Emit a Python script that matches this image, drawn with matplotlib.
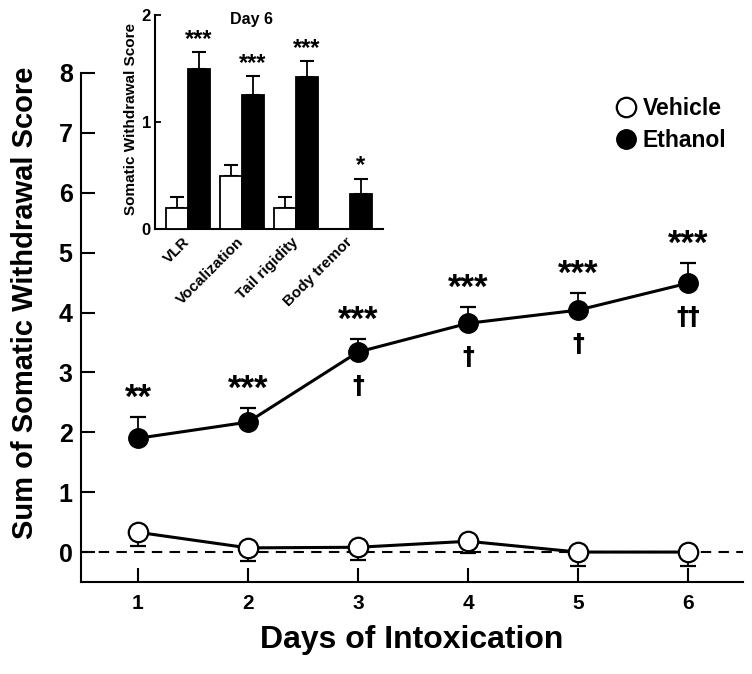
import matplotlib
matplotlib.use("Agg")
import matplotlib.pyplot as plt
from matplotlib.lines import Line2D
import numpy as np

plt.rcParams['font.family'] = ['Liberation Sans', 'DejaVu Sans']
plt.rcParams['font.weight'] = 'bold'
plt.rcParams['axes.labelweight'] = 'bold'

# main chart data
days = [1, 2, 3, 4, 5, 6]
vehicle = [0.33, 0.07, 0.08, 0.18, 0.0, 0.0]
vehicle_err = [0.23, 0.22, 0.22, 0.20, 0.24, 0.23]
ethanol = [1.90, 2.17, 3.34, 3.82, 4.04, 4.49]
ethanol_err = [0.35, 0.23, 0.22, 0.27, 0.28, 0.33]
eth_stars = ['**', '***', '***', '***', '***', '***']
eth_dagger = ['', '', '†', '†', '†', '††']

# inset data (day 6)
signs = ['VLR', 'Vocalization', 'Tail rigidity', 'Body tremor']
veh_day6 = [0.2, 0.5, 0.2, 0.0]
veh_day6_err = [0.1, 0.1, 0.1, 0.0]
eth_day6 = [1.5, 1.25, 1.42, 0.33]
eth_day6_err = [0.15, 0.18, 0.15, 0.14]
day6_stars = ['***', '***', '***', '*']

fig = plt.figure(figsize=(7.52, 6.74), dpi=100)
ax = fig.add_axes([0.1077, 0.1365, 0.8803, 0.7552])

ax.axhline(0, color='black', lw=1.5, linestyle=(0, (5, 3.5)), zorder=1)

ax.errorbar(days, vehicle, yerr=[vehicle_err, np.zeros(6)], fmt='none',
            ecolor='black', elinewidth=1.3, capsize=6, capthick=1.6, zorder=2)
ax.errorbar(days, ethanol, yerr=[np.zeros(6), ethanol_err], fmt='none',
            ecolor='black', elinewidth=1.3, capsize=6, capthick=1.6, zorder=2)
ax.plot(days, vehicle, color='black', lw=2.2, marker='o', markersize=14,
        markerfacecolor='white', markeredgecolor='black', markeredgewidth=1.6, zorder=3)
ax.plot(days, ethanol, color='black', lw=2.2, marker='o', markersize=14,
        markerfacecolor='black', markeredgecolor='black', zorder=4)

for d, v, e, s, g in zip(days, ethanol, ethanol_err, eth_stars, eth_dagger):
    ax.text(d, v + e + 0.31, s, ha='center', va='center', fontsize=25)
    if g:
        ax.text(d, v - 0.56, g, ha='center', va='center', fontsize=17,
                family=['DejaVu Sans'])

ax.set_xlim(0.482, 6.5)
ax.set_ylim(-0.5, 8)
ax.set_xticks(days)
ax.set_yticks(range(0, 9))
ax.spines['top'].set_visible(False)
ax.spines['right'].set_visible(False)
ax.spines['left'].set_linewidth(1.5)
ax.spines['bottom'].set_linewidth(1.5)
ax.tick_params(axis='both', direction='in', length=10, width=1.5)
ax.tick_params(axis='y', labelsize=18, pad=6)
ax.tick_params(axis='x', labelsize=15, pad=9)

ax.set_ylabel('Sum of Somatic Withdrawal Score', fontsize=21, fontweight='bold')
ax.yaxis.set_label_coords(-0.063, 0.548)
ax.set_xlabel('Days of Intoxication', fontsize=23, fontweight='bold')
ax.xaxis.set_label_coords(0.5, -0.085)

handles = [Line2D([], [], linestyle='none', marker='o', markersize=14,
                  markerfacecolor='white', markeredgecolor='black', markeredgewidth=1.6),
           Line2D([], [], linestyle='none', marker='o', markersize=14,
                  markerfacecolor='black', markeredgecolor='black')]
ax.legend(handles, ['Vehicle', 'Ethanol'], loc='center left', bbox_to_anchor=(0.81, 0.899),
          frameon=False, fontsize=16.5, handlelength=0.8, handletextpad=0.3,
          borderpad=0, borderaxespad=0, labelspacing=0.4)

# inset
ins = fig.add_axes([0.2061, 0.6602, 0.3032, 0.3175])
x = np.arange(len(signs))
w = 0.4
ins.bar(x - w / 2, veh_day6, width=w, color='white', edgecolor='black', linewidth=1.3, zorder=3)
ins.bar(x + w / 2, eth_day6, width=w, color='black', edgecolor='black', linewidth=1.3, zorder=3)
mask = np.array(veh_day6_err) > 0
ins.errorbar((x - w / 2)[mask], np.array(veh_day6)[mask],
             yerr=[np.zeros(mask.sum()), np.array(veh_day6_err)[mask]], fmt='none',
             ecolor='black', elinewidth=1.3, capsize=5, capthick=1.5, zorder=2)
ins.errorbar(x + w / 2, eth_day6, yerr=[np.zeros(4), eth_day6_err], fmt='none',
             ecolor='black', elinewidth=1.3, capsize=5, capthick=1.5, zorder=2)
for xi, v, e, s in zip(x, eth_day6, eth_day6_err, day6_stars):
    ins.text(xi + w / 2, v + e + 0.12, s, ha='center', va='center', fontsize=17)

ins.set_xlim(-0.61, 3.61)
ins.set_ylim(0, 2)
ins.set_yticks([0, 1, 2])
ins.set_xticks(x)
ins.set_xticklabels(signs, rotation=45, ha='right', va='center', rotation_mode='anchor',
                    fontsize=11, fontweight='bold')
ins.spines['top'].set_visible(False)
ins.spines['right'].set_visible(False)
ins.spines['left'].set_linewidth(1.5)
ins.spines['bottom'].set_linewidth(1.5)
ins.tick_params(axis='y', direction='in', length=4, width=1.3, labelsize=12, pad=3)
ins.tick_params(axis='x', length=0, pad=8)
ins.set_ylabel('Somatic Withdrawal Score', fontsize=11, fontweight='bold')
ins.yaxis.set_label_coords(-0.075, 0.514)
ins.text(0.425, 0.977, 'Day 6', transform=ins.transAxes, ha='center', va='center',
         fontsize=11.5, fontweight='bold')

fig.savefig('out.png', dpi=100)
